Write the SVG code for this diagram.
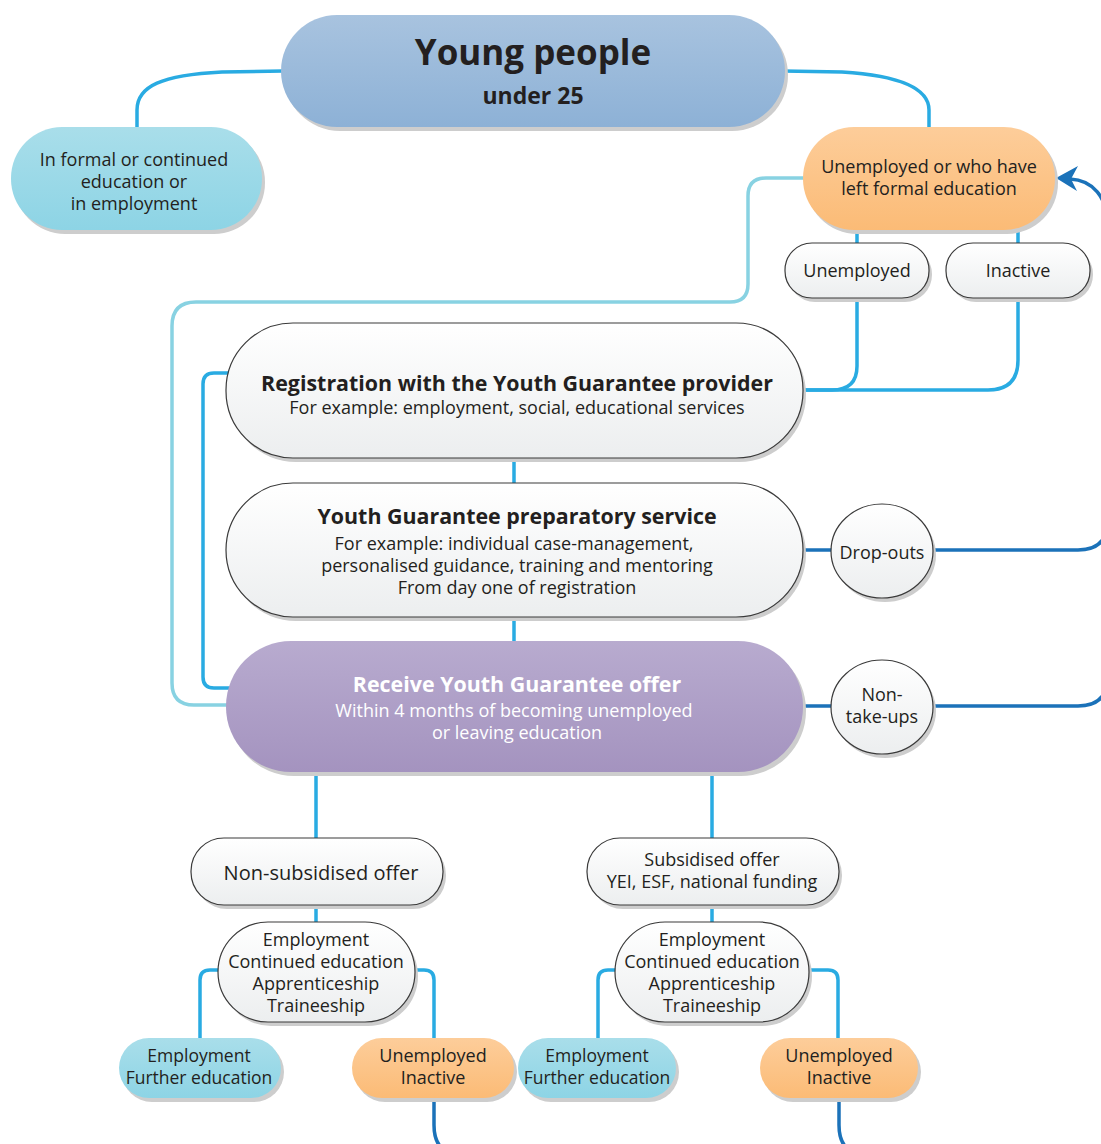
<svg xmlns="http://www.w3.org/2000/svg" width="1101" height="1144" viewBox="0 0 1101 1144">
<defs>
<linearGradient id="gBlue" x1="0" y1="0" x2="0" y2="1"><stop offset="0" stop-color="#a8c3df"/><stop offset="1" stop-color="#8db1d6"/></linearGradient>
<linearGradient id="gCyan" x1="0" y1="0" x2="0" y2="1"><stop offset="0" stop-color="#a9deea"/><stop offset="1" stop-color="#8dd4e5"/></linearGradient>
<linearGradient id="gOrange" x1="0" y1="0" x2="0" y2="1"><stop offset="0" stop-color="#fdcd9a"/><stop offset="1" stop-color="#fbbb76"/></linearGradient>
<linearGradient id="gWhite" x1="0" y1="0" x2="0" y2="1"><stop offset="0" stop-color="#ffffff"/><stop offset="1" stop-color="#eceeef"/></linearGradient>
<linearGradient id="gPurple" x1="0" y1="0" x2="0" y2="1"><stop offset="0" stop-color="#b8abcf"/><stop offset="1" stop-color="#a493bf"/></linearGradient>
</defs>
<style>
.sh{fill:#cdcdcd}
.wn{fill:url(#gWhite);stroke:#3a3a3a;stroke-width:1.2}
.t{font-family:"Open Sans","Noto Sans",sans-serif;fill:#231f20;text-anchor:middle;font-size:18px}
.b{font-weight:bold}
.w{fill:#ffffff}
.c1{fill:none;stroke:#29abe2;stroke-width:3.5}
.c2{fill:none;stroke:#1b72b9;stroke-width:3.5}
.c3{fill:none;stroke:#88d2e2;stroke-width:3.5}
</style>
<g id="connectors">
<path class="c1" d="M283,71 L222,72 C162,75 137,86 137,110 L137,129"/>
<path class="c1" d="M783,71 L842,72 C905,76 929,90 929,110 L929,129"/>
<path class="c1" d="M857,229 V245 M1018,229 V245"/>
<path class="c1" d="M857,297 V366 Q857,390 832,390 H801"/>
<path class="c1" d="M1018,297 V360 Q1018,390 988,390 H801"/>
<path class="c3" d="M805,178 H766 Q748,178 748,196 V284 Q748,302 730,302 H196 Q172,302 172,326 V683 Q172,705 194,705 H229"/>
<path class="c1" d="M514,457 V485 M514,616 V643"/>
<path class="c1" d="M231,373 H214 Q203,373 203,384 V677 Q203,688 214,688 H231"/>
<path class="c2" d="M801,550 H833 M931,550 H1078 Q1108,550 1108,520"/>
<path class="c2" d="M801,706 H833 M931,706 H1078 Q1108,706 1108,676"/>
<path class="c2" d="M1108,1170 V228 C1108,196 1092,180 1070,179"/>
<polygon fill="#1b72b9" points="1056,178 1078,166 1071,179 1077,191"/>
<path class="c1" d="M316,771 V840 M712,771 V840"/>
<path class="c1" d="M316,904 V923 M712,904 V923"/>
<path class="c1" d="M220,970 H210 Q200,970 200,980 V1040"/>
<path class="c1" d="M413,970 H424 Q434,970 434,980 V1040"/>
<path class="c1" d="M617,970 H608 Q598,970 598,980 V1040"/>
<path class="c1" d="M807,970 H828 Q838,970 838,980 V1040"/>
<path class="c2" d="M434,1098 V1125 Q434,1156 465,1156 H1078 Q1108,1156 1108,1126"/>
<path class="c2" d="M839,1098 V1125 Q839,1156 870,1156"/>
</g>
<g id="young">
<rect class="sh" x="284" y="19" width="504" height="112" rx="56"/>
<rect x="281" y="15" width="504" height="112" rx="56" fill="url(#gBlue)"/>
<text class="t b" x="533" y="65" style="font-size:35px">Young people</text>
<text class="t b" x="533" y="104" style="font-size:23px">under 25</text>
</g>
<g id="informal">
<rect class="sh" x="14" y="131" width="251" height="103" rx="51"/>
<rect x="11" y="127" width="251" height="103" rx="51" fill="url(#gCyan)"/>
<text class="t"><tspan x="134" y="166">In formal or continued</tspan><tspan x="134" y="188">education or</tspan><tspan x="134" y="210">in employment</tspan></text>
</g>
<g id="unemployed-left">
<rect class="sh" x="806" y="131" width="252" height="103" rx="51"/>
<rect x="803" y="127" width="252" height="103" rx="51" fill="url(#gOrange)"/>
<text class="t"><tspan x="929" y="173">Unemployed or who have</tspan><tspan x="929" y="195">left formal education</tspan></text>
</g>
<g id="unemployed">
<rect class="sh" x="788" y="247" width="144" height="55" rx="27"/>
<rect class="wn" x="785" y="243" width="144" height="55" rx="27"/>
<text class="t" x="857" y="277">Unemployed</text>
</g>
<g id="inactive">
<rect class="sh" x="949" y="247" width="144" height="55" rx="27"/>
<rect class="wn" x="946" y="243" width="144" height="55" rx="27"/>
<text class="t" x="1018" y="277">Inactive</text>
</g>
<g id="registration">
<rect class="sh" x="229" y="327" width="577" height="135" rx="67"/>
<rect class="wn" x="226" y="323" width="577" height="135" rx="67"/>
<text class="t b" x="517" y="391" style="font-size:21.4px">Registration with the Youth Guarantee provider</text>
<text class="t" x="517" y="414">For example: employment, social, educational services</text>
</g>
<g id="preparatory">
<rect class="sh" x="229" y="487" width="577" height="134" rx="67"/>
<rect class="wn" x="226" y="483" width="577" height="134" rx="67"/>
<text class="t b" x="517" y="524" style="font-size:21.4px">Youth Guarantee preparatory service</text>
<text class="t"><tspan x="514" y="550">For example: individual case-management,</tspan><tspan x="517" y="572">personalised guidance, training and mentoring</tspan><tspan x="517" y="594">From day one of registration</tspan></text>
</g>
<g id="offer">
<rect class="sh" x="229" y="645" width="577" height="131" rx="65"/>
<rect x="226" y="641" width="577" height="131" rx="65" fill="url(#gPurple)"/>
<text class="t b w" x="517" y="692" style="font-size:21.4px">Receive Youth Guarantee offer</text>
<text class="t w"><tspan x="514" y="717">Within 4 months of becoming unemployed</tspan><tspan x="517" y="739">or leaving education</tspan></text>
</g>
<g id="dropouts">
<ellipse class="sh" cx="885" cy="555" rx="51" ry="47"/>
<ellipse class="wn" cx="882" cy="551" rx="51" ry="47"/>
<text class="t" x="882" y="559">Drop-outs</text>
</g>
<g id="nontakeups">
<ellipse class="sh" cx="885" cy="711" rx="51" ry="47"/>
<ellipse class="wn" cx="882" cy="707" rx="51" ry="47"/>
<text class="t"><tspan x="882" y="701">Non-</tspan><tspan x="882" y="723">take-ups</tspan></text>
</g>
<g id="nonsubsidised">
<rect class="sh" x="194" y="842" width="252" height="67" rx="33"/>
<rect class="wn" x="191" y="838" width="252" height="67" rx="33"/>
<text class="t" x="321" y="880" style="font-size:20px">Non-subsidised offer</text>
</g>
<g id="subsidised">
<rect class="sh" x="590" y="842" width="252" height="67" rx="33"/>
<rect class="wn" x="587" y="838" width="252" height="67" rx="33"/>
<text class="t"><tspan x="712" y="866">Subsidised offer</tspan><tspan x="712" y="888">YEI, ESF, national funding</tspan></text>
</g>
<g id="options-left">
<rect class="sh" x="221" y="926" width="197" height="100" rx="50"/>
<rect class="wn" x="218" y="922" width="197" height="100" rx="50"/>
<text class="t"><tspan x="316" y="946">Employment</tspan><tspan x="316" y="968">Continued education</tspan><tspan x="316" y="990">Apprenticeship</tspan><tspan x="316" y="1012">Traineeship</tspan></text>
</g>
<g id="options-right">
<rect class="sh" x="618" y="926" width="194" height="100" rx="50"/>
<rect class="wn" x="615" y="922" width="194" height="100" rx="50"/>
<text class="t"><tspan x="712" y="946">Employment</tspan><tspan x="712" y="968">Continued education</tspan><tspan x="712" y="990">Apprenticeship</tspan><tspan x="712" y="1012">Traineeship</tspan></text>
</g>
<g id="employed-left">
<rect class="sh" x="122" y="1042" width="162" height="60" rx="30"/>
<rect x="119" y="1038" width="162" height="60" rx="30" fill="url(#gCyan)"/>
<text class="t" style="font-size:17.5px"><tspan x="199" y="1062">Employment</tspan><tspan x="199" y="1084">Further education</tspan></text>
</g>
<g id="unemp-inactive-left">
<rect class="sh" x="355" y="1042" width="162" height="60" rx="30"/>
<rect x="352" y="1038" width="162" height="60" rx="30" fill="url(#gOrange)"/>
<text class="t"><tspan x="433" y="1062">Unemployed</tspan><tspan x="433" y="1084">Inactive</tspan></text>
</g>
<g id="employed-right">
<rect class="sh" x="521" y="1042" width="158" height="60" rx="30"/>
<rect x="518" y="1038" width="158" height="60" rx="30" fill="url(#gCyan)"/>
<text class="t" style="font-size:17.5px"><tspan x="597" y="1062">Employment</tspan><tspan x="597" y="1084">Further education</tspan></text>
</g>
<g id="unemp-inactive-right">
<rect class="sh" x="763" y="1042" width="158" height="60" rx="30"/>
<rect x="760" y="1038" width="158" height="60" rx="30" fill="url(#gOrange)"/>
<text class="t"><tspan x="839" y="1062">Unemployed</tspan><tspan x="839" y="1084">Inactive</tspan></text>
</g>
</svg>
